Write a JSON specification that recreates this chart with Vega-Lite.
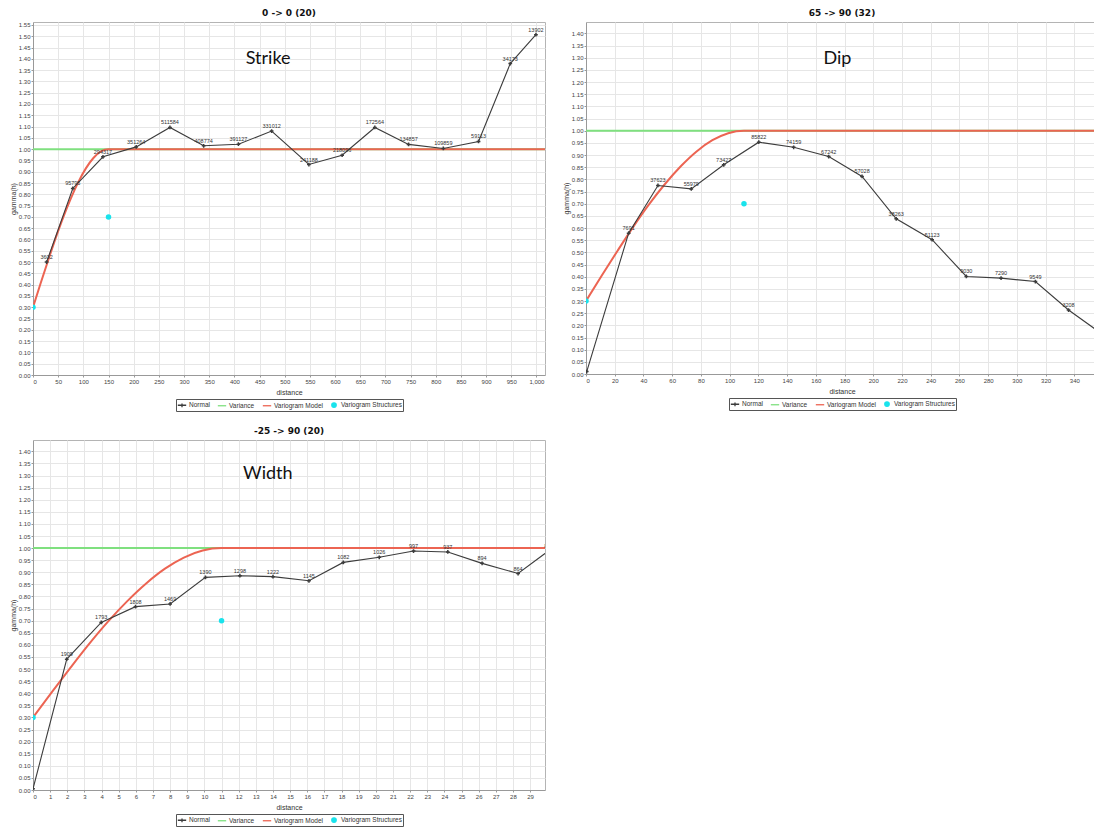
{
  "$schema": "https://vega.github.io/schema/vega-lite/v6.json",
  "background": "white",
  "padding": {"left": 8, "top": 8, "right": 0, "bottom": 0},
  "datasets": {
    "strike": [
      {"series": "Variance", "distance": 0, "gamma": 1.0},
      {"series": "Variance", "distance": 1017, "gamma": 1.0},
      {"series": "Variogram Model", "distance": 0, "gamma": 0.3},
      {"series": "Variogram Model", "distance": 15, "gamma": 0.405},
      {"series": "Variogram Model", "distance": 30, "gamma": 0.507},
      {"series": "Variogram Model", "distance": 45, "gamma": 0.606},
      {"series": "Variogram Model", "distance": 60, "gamma": 0.698},
      {"series": "Variogram Model", "distance": 75, "gamma": 0.781},
      {"series": "Variogram Model", "distance": 90, "gamma": 0.854},
      {"series": "Variogram Model", "distance": 105, "gamma": 0.915},
      {"series": "Variogram Model", "distance": 120, "gamma": 0.961},
      {"series": "Variogram Model", "distance": 135, "gamma": 0.99},
      {"series": "Variogram Model", "distance": 150, "gamma": 1.0},
      {"series": "Variogram Model", "distance": 1017, "gamma": 1.0},
      {"series": "Normal", "distance": 27, "gamma": 0.5, "pairs": "3602"},
      {"series": "Normal", "distance": 79, "gamma": 0.826, "pairs": "95795"},
      {"series": "Normal", "distance": 139, "gamma": 0.966, "pairs": "294317"},
      {"series": "Normal", "distance": 205, "gamma": 1.01, "pairs": "351264"},
      {"series": "Normal", "distance": 272, "gamma": 1.096, "pairs": "511584"},
      {"series": "Normal", "distance": 339, "gamma": 1.015, "pairs": "408774"},
      {"series": "Normal", "distance": 408, "gamma": 1.022, "pairs": "391127"},
      {"series": "Normal", "distance": 474, "gamma": 1.08, "pairs": "331012"},
      {"series": "Normal", "distance": 548, "gamma": 0.932, "pairs": "241188"},
      {"series": "Normal", "distance": 614, "gamma": 0.973, "pairs": "218096"},
      {"series": "Normal", "distance": 679, "gamma": 1.096, "pairs": "172564"},
      {"series": "Normal", "distance": 746, "gamma": 1.021, "pairs": "134857"},
      {"series": "Normal", "distance": 815, "gamma": 1.003, "pairs": "109859"},
      {"series": "Normal", "distance": 885, "gamma": 1.034, "pairs": "59113"},
      {"series": "Normal", "distance": 948, "gamma": 1.379, "pairs": "34173"},
      {"series": "Normal", "distance": 999, "gamma": 1.507, "pairs": "13902"},
      {"series": "Variogram Structures", "distance": 0, "gamma": 0.3},
      {"series": "Variogram Structures", "distance": 150, "gamma": 0.7},
      {"series": "Annotation", "distance": 467, "gamma": 1.398, "name": "Strike"}
    ],
    "dip": [
      {"series": "Variance", "distance": 0, "gamma": 1.0},
      {"series": "Variance", "distance": 356.5, "gamma": 1.0},
      {"series": "Variogram Model", "distance": 0, "gamma": 0.3},
      {"series": "Variogram Model", "distance": 11, "gamma": 0.405},
      {"series": "Variogram Model", "distance": 22, "gamma": 0.507},
      {"series": "Variogram Model", "distance": 33, "gamma": 0.606},
      {"series": "Variogram Model", "distance": 44, "gamma": 0.698},
      {"series": "Variogram Model", "distance": 55, "gamma": 0.781},
      {"series": "Variogram Model", "distance": 66, "gamma": 0.854},
      {"series": "Variogram Model", "distance": 77, "gamma": 0.915},
      {"series": "Variogram Model", "distance": 88, "gamma": 0.961},
      {"series": "Variogram Model", "distance": 99, "gamma": 0.99},
      {"series": "Variogram Model", "distance": 110, "gamma": 1.0},
      {"series": "Variogram Model", "distance": 356.5, "gamma": 1.0},
      {"series": "Normal", "distance": 0.5, "gamma": 0.01},
      {"series": "Normal", "distance": 29.7, "gamma": 0.579, "pairs": "7691"},
      {"series": "Normal", "distance": 50.1, "gamma": 0.775, "pairs": "37623"},
      {"series": "Normal", "distance": 73.3, "gamma": 0.761, "pairs": "55979"},
      {"series": "Normal", "distance": 95.9, "gamma": 0.86, "pairs": "73427"},
      {"series": "Normal", "distance": 120.3, "gamma": 0.953, "pairs": "85822"},
      {"series": "Normal", "distance": 144.6, "gamma": 0.932, "pairs": "74159"},
      {"series": "Normal", "distance": 169, "gamma": 0.894, "pairs": "67242"},
      {"series": "Normal", "distance": 192.2, "gamma": 0.812, "pairs": "57028"},
      {"series": "Normal", "distance": 216, "gamma": 0.638, "pairs": "38263"},
      {"series": "Normal", "distance": 241, "gamma": 0.552, "pairs": "51123"},
      {"series": "Normal", "distance": 264.8, "gamma": 0.401, "pairs": "9030"},
      {"series": "Normal", "distance": 289, "gamma": 0.394, "pairs": "7290"},
      {"series": "Normal", "distance": 312.9, "gamma": 0.38, "pairs": "9549"},
      {"series": "Normal", "distance": 336, "gamma": 0.263, "pairs": "3208"},
      {"series": "Normal", "distance": 358, "gamma": 0.17},
      {"series": "Variogram Structures", "distance": 0, "gamma": 0.3},
      {"series": "Variogram Structures", "distance": 110, "gamma": 0.7},
      {"series": "Annotation", "distance": 175, "gamma": 1.296, "name": "Dip"}
    ],
    "width": [
      {"series": "Variance", "distance": 0, "gamma": 1.0},
      {"series": "Variance", "distance": 29.87, "gamma": 1.0},
      {"series": "Variogram Model", "distance": 0, "gamma": 0.3},
      {"series": "Variogram Model", "distance": 1.1, "gamma": 0.405},
      {"series": "Variogram Model", "distance": 2.2, "gamma": 0.507},
      {"series": "Variogram Model", "distance": 3.3, "gamma": 0.606},
      {"series": "Variogram Model", "distance": 4.4, "gamma": 0.698},
      {"series": "Variogram Model", "distance": 5.5, "gamma": 0.781},
      {"series": "Variogram Model", "distance": 6.6, "gamma": 0.854},
      {"series": "Variogram Model", "distance": 7.7, "gamma": 0.915},
      {"series": "Variogram Model", "distance": 8.8, "gamma": 0.961},
      {"series": "Variogram Model", "distance": 9.9, "gamma": 0.99},
      {"series": "Variogram Model", "distance": 11, "gamma": 1.0},
      {"series": "Variogram Model", "distance": 29.87, "gamma": 1.0},
      {"series": "Normal", "distance": 0, "gamma": 0.005},
      {"series": "Normal", "distance": 1.97, "gamma": 0.541, "pairs": "1909"},
      {"series": "Normal", "distance": 3.98, "gamma": 0.693, "pairs": "1793"},
      {"series": "Normal", "distance": 5.98, "gamma": 0.758, "pairs": "1808"},
      {"series": "Normal", "distance": 8.0, "gamma": 0.769, "pairs": "1469"},
      {"series": "Normal", "distance": 10.06, "gamma": 0.879, "pairs": "1390"},
      {"series": "Normal", "distance": 12.07, "gamma": 0.886, "pairs": "1298"},
      {"series": "Normal", "distance": 14.0, "gamma": 0.882, "pairs": "1222"},
      {"series": "Normal", "distance": 16.1, "gamma": 0.865, "pairs": "1145"},
      {"series": "Normal", "distance": 18.1, "gamma": 0.941, "pairs": "1082"},
      {"series": "Normal", "distance": 20.2, "gamma": 0.962, "pairs": "1026"},
      {"series": "Normal", "distance": 22.2, "gamma": 0.988, "pairs": "997"},
      {"series": "Normal", "distance": 24.2, "gamma": 0.984, "pairs": "937"},
      {"series": "Normal", "distance": 26.2, "gamma": 0.937, "pairs": "894"},
      {"series": "Normal", "distance": 28.3, "gamma": 0.895, "pairs": "864"},
      {"series": "Normal", "distance": 30.1, "gamma": 0.99, "pairs": "824"},
      {"series": "Variogram Structures", "distance": 0, "gamma": 0.3},
      {"series": "Variogram Structures", "distance": 11, "gamma": 0.7},
      {"series": "Annotation", "distance": 13.7, "gamma": 1.305, "name": "Width"}
    ]
  },
  "vconcat": [
    {
      "hconcat": [
        {
          "width": 512,
          "height": 353,
          "title": {"text": "0 -> 0 (20)"},
          "data": {"name": "strike"},
          "encoding": {
            "x": {"field": "distance", "type": "quantitative",
                  "scale": {"domain": [0, 1017], "nice": false, "zero": false},
                  "axis": {"title": "distance", "format": ",d",
                           "values": [0, 50, 100, 150, 200, 250, 300, 350, 400, 450, 500, 550, 600, 650, 700, 750, 800, 850, 900, 950, 1000]}},
            "y": {"field": "gamma", "type": "quantitative",
                  "scale": {"domain": [0, 1.563], "nice": false},
                  "axis": {"title": "gamma(h)", "format": ".2f",
                           "values": [0, 0.05, 0.1, 0.15, 0.2, 0.25, 0.3, 0.35, 0.4, 0.45, 0.5, 0.55, 0.6, 0.65, 0.7, 0.75, 0.8, 0.85, 0.9, 0.95, 1, 1.05, 1.1, 1.15, 1.2, 1.25, 1.3, 1.35, 1.4, 1.45, 1.5, 1.55]}},
            "color": {"field": "series", "type": "nominal",
                      "scale": {"domain": ["Normal", "Variance", "Variogram Model", "Variogram Structures"],
                                "range": ["#3c3c3c", "#7fe07f", "#ec6452", "#19e3ec"]},
                      "legend": {"title": null, "orient": "bottom", "direction": "horizontal", "offset": 4,
                                 "strokeColor": "#555", "padding": 1, "columnPadding": 5, "labelOffset": 2,
                                 "encode": {"symbols": {"update": {
                                   "shape": {"signal": "datum.value === 'Variogram Structures' ? 'circle' : datum.value === 'Normal' ? 'M-1,0H1M0,-0.45V0.45' : 'stroke'"},
                                   "size": {"signal": "datum.value === 'Variogram Structures' ? 20 : 70"},
                                   "fill": {"signal": "datum.value === 'Variogram Structures' ? '#19e3ec' : 'transparent'"},
                                   "stroke": {"signal": "datum.value === 'Normal' ? '#3c3c3c' : datum.value === 'Variance' ? '#7fe07f' : datum.value === 'Variogram Model' ? '#ec6452' : 'transparent'"},
                                   "strokeWidth": {"value": 1.3},
                                   "opacity": {"value": 1}}}}}}
          },
          "layer": [
            {"transform": [{"filter": "datum.series === 'Variance'"}],
             "mark": {"type": "line", "strokeWidth": 2, "clip": true}},
            {"transform": [{"filter": "datum.series === 'Variogram Model'"}],
             "mark": {"type": "line", "strokeWidth": 2, "interpolate": "monotone", "clip": true}},
            {"transform": [{"filter": "datum.series === 'Normal'"}],
             "mark": {"type": "line", "strokeWidth": 1.1, "clip": true, "point": {"shape": "cross", "size": 14}}},
            {"transform": [{"filter": "datum.series === 'Variogram Structures'"}],
             "mark": {"type": "point", "shape": "circle", "filled": true, "size": 30, "opacity": 1, "clip": true}},
            {"transform": [{"filter": "datum.series === 'Normal' && datum.pairs"}],
             "mark": {"type": "text", "font": "Liberation Sans", "fontSize": 5.5, "dy": -5, "clip": true},
             "encoding": {"text": {"field": "pairs"}, "color": {"value": "#333333"}}},
            {"transform": [{"filter": "datum.series === 'Annotation'"}],
             "mark": {"type": "text", "font": "Lato", "fontSize": 18},
             "encoding": {"text": {"field": "name"}, "color": {"value": "#111111"}}}
          ]
        },
        {
          "width": 512,
          "height": 352,
          "title": {"text": "65 -> 90 (32)"},
          "data": {"name": "dip"},
          "encoding": {
            "x": {"field": "distance", "type": "quantitative",
                  "scale": {"domain": [0, 356.5], "nice": false, "zero": false},
                  "axis": {"title": "distance",
                           "values": [0, 20, 40, 60, 80, 100, 120, 140, 160, 180, 200, 220, 240, 260, 280, 300, 320, 340]}},
            "y": {"field": "gamma", "type": "quantitative",
                  "scale": {"domain": [0, 1.447], "nice": false},
                  "axis": {"title": "gamma(h)", "format": ".2f",
                           "values": [0, 0.05, 0.1, 0.15, 0.2, 0.25, 0.3, 0.35, 0.4, 0.45, 0.5, 0.55, 0.6, 0.65, 0.7, 0.75, 0.8, 0.85, 0.9, 0.95, 1, 1.05, 1.1, 1.15, 1.2, 1.25, 1.3, 1.35, 1.4]}},
            "color": {"field": "series", "type": "nominal",
                      "scale": {"domain": ["Normal", "Variance", "Variogram Model", "Variogram Structures"],
                                "range": ["#3c3c3c", "#7fe07f", "#ec6452", "#19e3ec"]},
                      "legend": {"title": null, "orient": "bottom", "direction": "horizontal", "offset": 4,
                                 "strokeColor": "#555", "padding": 1, "columnPadding": 5, "labelOffset": 2,
                                 "encode": {"symbols": {"update": {
                                   "shape": {"signal": "datum.value === 'Variogram Structures' ? 'circle' : datum.value === 'Normal' ? 'M-1,0H1M0,-0.45V0.45' : 'stroke'"},
                                   "size": {"signal": "datum.value === 'Variogram Structures' ? 20 : 70"},
                                   "fill": {"signal": "datum.value === 'Variogram Structures' ? '#19e3ec' : 'transparent'"},
                                   "stroke": {"signal": "datum.value === 'Normal' ? '#3c3c3c' : datum.value === 'Variance' ? '#7fe07f' : datum.value === 'Variogram Model' ? '#ec6452' : 'transparent'"},
                                   "strokeWidth": {"value": 1.3},
                                   "opacity": {"value": 1}}}}}}
          },
          "layer": [
            {"transform": [{"filter": "datum.series === 'Variance'"}],
             "mark": {"type": "line", "strokeWidth": 2, "clip": true}},
            {"transform": [{"filter": "datum.series === 'Variogram Model'"}],
             "mark": {"type": "line", "strokeWidth": 2, "interpolate": "monotone", "clip": true}},
            {"transform": [{"filter": "datum.series === 'Normal'"}],
             "mark": {"type": "line", "strokeWidth": 1.1, "clip": true, "point": {"shape": "cross", "size": 14}}},
            {"transform": [{"filter": "datum.series === 'Variogram Structures'"}],
             "mark": {"type": "point", "shape": "circle", "filled": true, "size": 30, "opacity": 1, "clip": true}},
            {"transform": [{"filter": "datum.series === 'Normal' && datum.pairs"}],
             "mark": {"type": "text", "font": "Liberation Sans", "fontSize": 5.5, "dy": -5, "clip": true},
             "encoding": {"text": {"field": "pairs"}, "color": {"value": "#333333"}}},
            {"transform": [{"filter": "datum.series === 'Annotation'"}],
             "mark": {"type": "text", "font": "Lato", "fontSize": 18},
             "encoding": {"text": {"field": "name"}, "color": {"value": "#111111"}}}
          ]
        }
      ],
      "spacing": 15,
      "resolve": {"scale": {"color": "independent"}, "legend": {"color": "independent"}}
    },
    {
      "width": 512,
      "height": 350,
      "title": {"text": "-25 -> 90 (20)"},
      "data": {"name": "width"},
      "encoding": {
        "x": {"field": "distance", "type": "quantitative",
              "scale": {"domain": [0, 29.87], "nice": false, "zero": false},
              "axis": {"title": "distance",
                       "values": [0, 1, 2, 3, 4, 5, 6, 7, 8, 9, 10, 11, 12, 13, 14, 15, 16, 17, 18, 19, 20, 21, 22, 23, 24, 25, 26, 27, 28, 29]}},
        "y": {"field": "gamma", "type": "quantitative",
              "scale": {"domain": [0, 1.447], "nice": false},
              "axis": {"title": "gamma(h)", "format": ".2f",
                       "values": [0, 0.05, 0.1, 0.15, 0.2, 0.25, 0.3, 0.35, 0.4, 0.45, 0.5, 0.55, 0.6, 0.65, 0.7, 0.75, 0.8, 0.85, 0.9, 0.95, 1, 1.05, 1.1, 1.15, 1.2, 1.25, 1.3, 1.35, 1.4]}},
        "color": {"field": "series", "type": "nominal",
                  "scale": {"domain": ["Normal", "Variance", "Variogram Model", "Variogram Structures"],
                            "range": ["#3c3c3c", "#7fe07f", "#ec6452", "#19e3ec"]},
                  "legend": {"title": null, "orient": "bottom", "direction": "horizontal", "offset": 4,
                             "strokeColor": "#555", "padding": 1, "columnPadding": 5, "labelOffset": 2,
                             "encode": {"symbols": {"update": {
                               "shape": {"signal": "datum.value === 'Variogram Structures' ? 'circle' : datum.value === 'Normal' ? 'M-1,0H1M0,-0.45V0.45' : 'stroke'"},
                               "size": {"signal": "datum.value === 'Variogram Structures' ? 20 : 70"},
                               "fill": {"signal": "datum.value === 'Variogram Structures' ? '#19e3ec' : 'transparent'"},
                               "stroke": {"signal": "datum.value === 'Normal' ? '#3c3c3c' : datum.value === 'Variance' ? '#7fe07f' : datum.value === 'Variogram Model' ? '#ec6452' : 'transparent'"},
                               "strokeWidth": {"value": 1.3},
                               "opacity": {"value": 1}}}}}}
      },
      "layer": [
        {"transform": [{"filter": "datum.series === 'Variance'"}],
         "mark": {"type": "line", "strokeWidth": 2, "clip": true}},
        {"transform": [{"filter": "datum.series === 'Variogram Model'"}],
         "mark": {"type": "line", "strokeWidth": 2, "interpolate": "monotone", "clip": true}},
        {"transform": [{"filter": "datum.series === 'Normal'"}],
         "mark": {"type": "line", "strokeWidth": 1.1, "clip": true, "point": {"shape": "cross", "size": 14}}},
        {"transform": [{"filter": "datum.series === 'Variogram Structures'"}],
         "mark": {"type": "point", "shape": "circle", "filled": true, "size": 30, "opacity": 1, "clip": true}},
        {"transform": [{"filter": "datum.series === 'Normal' && datum.pairs"}],
         "mark": {"type": "text", "font": "Liberation Sans", "fontSize": 5.5, "dy": -5, "clip": true},
         "encoding": {"text": {"field": "pairs"}, "color": {"value": "#333333"}}},
        {"transform": [{"filter": "datum.series === 'Annotation'"}],
         "mark": {"type": "text", "font": "Lato", "fontSize": 18},
         "encoding": {"text": {"field": "name"}, "color": {"value": "#111111"}}}
      ]
    }
  ],
  "spacing": 14,
  "resolve": {"scale": {"color": "independent"}, "legend": {"color": "independent"}},
  "config": {
    "view": {"stroke": "#b4b4b4", "fill": "white"},
    "title": {"font": "DejaVu Sans", "fontSize": 9, "fontWeight": "bold", "offset": 4, "color": "#111111"},
    "axis": {"labelFont": "Liberation Sans", "labelFontSize": 6, "labelColor": "#444444",
             "titleFont": "Liberation Sans", "titleFontSize": 7, "titleFontWeight": "normal", "titleColor": "#333333",
             "tickSize": 2, "tickColor": "#999999", "domainColor": "#999999", "gridColor": "#e6e6e6",
             "labelPadding": 1, "titlePadding": 2, "labelOverlap": false},
    "axisX": {"labelAngle": 0, "titlePadding": 4},
    "legend": {"labelFont": "Liberation Sans", "labelFontSize": 6.5, "labelColor": "#333333",
               "layout": {"bottom": {"anchor": "middle"}}}
  }
}
